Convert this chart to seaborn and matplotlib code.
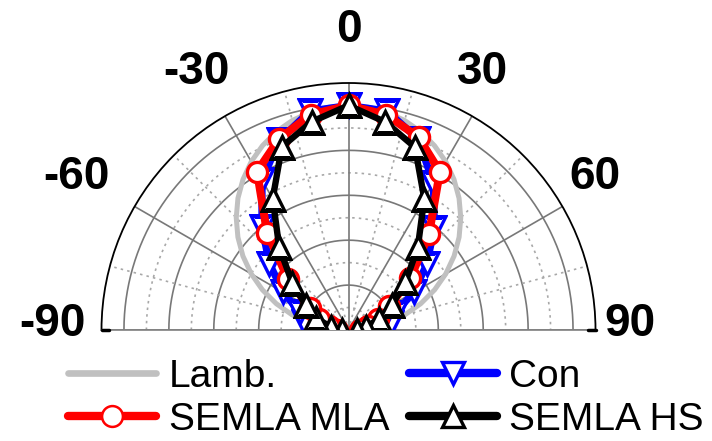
import numpy as np
import pandas as pd
import matplotlib
matplotlib.use("Agg")
import matplotlib.pyplot as plt
from matplotlib.lines import Line2D
import seaborn as sns

# Emission angle (degrees) and normalised intensity of each device
angles_deg = [-90, -80, -70, -60, -50, -40, -30, -20, -10, 0,
              10, 20, 30, 40, 50, 60, 70, 80, 90]
con = [0.14, 0.20, 0.23, 0.335, 0.46, 0.60, 0.77, 0.90, 0.99, 1.00,
       0.99, 0.905, 0.756, 0.595, 0.455, 0.335, 0.22, 0.19, 0.13]
semla_mla = [0.05, 0.09, 0.14, 0.20, 0.35, 0.564, 0.815, 0.905, 0.974, 1.00,
             0.973, 0.913, 0.814, 0.558, 0.36, 0.21, 0.14, 0.09, 0.05]
semla_hs = [0.03, 0.08, 0.155, 0.22, 0.327, 0.48, 0.675, 0.868, 0.942, 1.00,
            0.941, 0.866, 0.675, 0.48, 0.331, 0.225, 0.145, 0.08, 0.04]

# Lambertian reference profile
lamb_angles_deg = list(range(-90, 91, 5))
lamb = [0.000, 0.087, 0.174, 0.259, 0.342, 0.423, 0.500, 0.574, 0.643, 0.707,
        0.766, 0.819, 0.866, 0.906, 0.940, 0.966, 0.985, 0.996, 1.000,
        0.996, 0.985, 0.966, 0.940, 0.906, 0.866, 0.819, 0.766, 0.707,
        0.643, 0.574, 0.500, 0.423, 0.342, 0.259, 0.174, 0.087, 0.000]

tick_labels = ["-90", "-60", "-30", "0", "30", "60", "90"]
legend_labels = ["Lamb.", "Con", "SEMLA MLA", "SEMLA HS"]

sns.set_style("white")
plt.rcParams["font.family"] = ["Liberation Sans", "DejaVu Sans"]
plt.rcParams["text.color"] = "black"

W, H = 712, 441
R = 247            # outer radius in pixels
cx, cy = 348.5, 111  # pole position (pixels from left / bottom)

fig = plt.figure(figsize=(W / 100, H / 100), dpi=100)
# A half-disc polar axes sits in a square box with its pole a quarter up
ax = fig.add_axes([(cx - R) / W, (cy - R / 2) / H, 2 * R / W, 2 * R / H],
                  projection="polar")
ax.set_theta_zero_location("N")
ax.set_theta_direction(-1)
ax.set_thetamin(-90)
ax.set_thetamax(90)
ax.grid(False)
ax.set_xticks([])
ax.set_yticks([])

# Rings: solid every 0.2, dotted in between
ring_theta = np.linspace(-np.pi / 2, np.pi / 2, 361)
for k in range(1, 11):
    r = k / 10
    if k % 2 == 0:
        ax.plot(ring_theta, np.full_like(ring_theta, r), color="#787878",
                lw=1.2, zorder=1)
    else:
        ax.plot(ring_theta, np.full_like(ring_theta, r), color="#a8a8a8",
                lw=1.2, ls=(0, (1.5, 2.5)), zorder=1)

# Spokes: solid every 30 deg, dotted every 15 deg in between
for a in range(-90, 91, 15):
    t = np.deg2rad(a)
    if a % 30 == 0:
        ax.plot([t, t], [0, 1.1], color="#787878", lw=1.2, zorder=1)
    else:
        ax.plot([t, t], [0, 1.1], color="#a8a8a8", lw=1.2,
                ls=(0, (1.5, 2.5)), zorder=1)

ax.spines["polar"].set_color("black")
ax.spines["polar"].set_linewidth(1.3)
for s in ("start", "end"):
    ax.spines[s].set_color("#808080")
    ax.spines[s].set_linewidth(1.2)
ax.spines["inner"].set_visible(False)
for a in (-90, 90):
    t = np.deg2rad(a)
    ax.plot([t, t], [1.065, 1.1], color="black", lw=2.5, zorder=5,
            clip_on=False)

lamb_df = pd.DataFrame({"theta": np.deg2rad(lamb_angles_deg), "r": lamb})
df = pd.DataFrame({
    "theta": np.deg2rad(angles_deg),
    "con": con,
    "mla": semla_mla,
    "hs": semla_hs,
})

sns.lineplot(data=lamb_df, x="theta", y="r", ax=ax, sort=False,
             estimator=None, errorbar=None, legend=False,
             color="#c0c0c0", lw=3.6, zorder=2)

styles = [
    ("con", "blue", "v", 16, 5.2),
    ("mla", "red", "o", 14.5, 5.8),
    ("hs", "black", "^", 16, 4.6),
]
for z, (col, color, mk, ms, lw) in enumerate(styles):
    sns.lineplot(data=df, x="theta", y=col, ax=ax, sort=False,
                 estimator=None, errorbar=None, legend=False,
                 color=color, lw=lw, marker=mk, markersize=ms,
                 markerfacecolor="white", markeredgecolor=color,
                 markeredgewidth=2.4, zorder=3 + z)

ax.set_xlabel("")
ax.set_ylabel("")
ax.set_ylim(0, 1.1)

# Angle labels around the half circle
label_theta = [-88.8, -60.7, -30.5, 0.0, 27.5, 58.2, 88.8]
label_r = [1.319, 1.389, 1.334, 1.336, 1.296, 1.292, 1.254]
for th, rr, txt in zip(label_theta, label_r, tick_labels):
    ax.text(np.deg2rad(th), rr, txt, ha="center", va="center",
            fontsize=33, fontweight="bold", clip_on=False)

handles = [
    Line2D([], [], color="#c0c0c0", lw=4.8),
    Line2D([], [], color="red", lw=6, marker="o", markersize=15,
           markerfacecolor="white", markeredgecolor="red", markeredgewidth=1.8),
    Line2D([], [], color="blue", lw=6, marker="v", markersize=16,
           markerfacecolor="white", markeredgecolor="blue", markeredgewidth=2.4),
    Line2D([], [], color="black", lw=6, marker="^", markersize=16,
           markerfacecolor="white", markeredgecolor="black", markeredgewidth=2.4),
]
labels = [legend_labels[0], legend_labels[2], legend_labels[1], legend_labels[3]]
fig.legend(handles, labels, ncol=2, loc="upper left",
           bbox_to_anchor=(68 / W, 1 - 359 / H), frameon=False,
           fontsize=28, handlelength=2.26, handletextpad=0.33,
           columnspacing=0.5, labelspacing=0.18, borderpad=0,
           borderaxespad=0)

fig.savefig("out.png", dpi=100, facecolor="white")
